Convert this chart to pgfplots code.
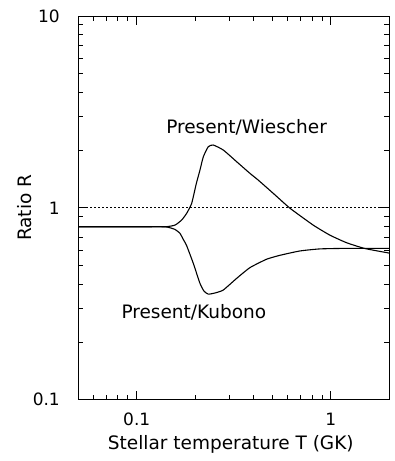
\documentclass[border=0pt]{standalone}
\usepackage{pgfplots}
\pgfplotsset{compat=1.18}
\usepackage{fontspec}
\setmainfont{DejaVu Sans}
\begin{document}
\begin{tikzpicture}
\begin{axis}[
  scale only axis,
  width=311pt, height=383.7pt,
  xmode=log, ymode=log,
  xmin=0.05, xmax=2, ymin=0.1, ymax=10,
  xtick={0.1,1}, xticklabels={0.1,1},
  ytick={0.1,1,10}, yticklabels={0.1,1,10},
  minor xtick={0.06,0.07,0.08,0.09,0.2,0.3,0.4,0.5,0.6,0.7,0.8,0.9,2},
  minor ytick={0.2,0.3,0.4,0.5,0.6,0.7,0.8,0.9,2,3,4,5,6,7,8,9},
  tick align=inside,
  major tick length=9pt, minor tick length=5pt,
  every tick/.style={black, line width=0.9pt},
  axis line style={line width=1pt},
  x tick label style={anchor=base, inner sep=0pt, yshift=-26pt, font=\fontsize{17}{20}\selectfont},
  y tick label style={anchor=east, inner sep=0pt, xshift=-18.3pt, font=\fontsize{17}{20}\selectfont},
  xlabel={Stellar temperature T (GK)},
  ylabel={Ratio R},
  xlabel style={at={(axis description cs:0.4904,-0.1293)}, anchor=base, inner sep=0pt, font=\fontsize{18.5}{22}\selectfont},
  ylabel style={at={(axis description cs:-0.1498,0.5)}, anchor=base, inner sep=0pt, font=\fontsize{18.5}{22}\selectfont},
]
\addplot[black, line width=0.8pt, dash pattern=on 2pt off 2pt] coordinates {(0.05,1) (2,1)};
\addplot[black, line width=1.1pt, smooth, tension=0.3] coordinates {
(0.05,0.797) (0.10,0.797) (0.14,0.797) (0.1574,0.813) (0.1704,0.864) (0.1808,0.936) (0.1919,1.055) (0.2024,1.33) (0.2117,1.574) (0.2203,1.847) (0.2336,2.083) (0.2478,2.126) (0.2791,2.002) (0.3271,1.740) (0.3829,1.513) (0.4209,1.40) (0.5088,1.182) (0.6162,0.995) (0.811,0.813) (0.988,0.721) (1.205,0.658) (1.496,0.614) (2.0,0.581)};
\addplot[black, line width=1.1pt, smooth, tension=0.3] coordinates {
(0.05,0.797) (0.10,0.797) (0.14,0.797) (0.1574,0.772) (0.1670,0.736) (0.1737,0.685) (0.1808,0.635) (0.1956,0.514) (0.2117,0.404) (0.2221,0.368) (0.2336,0.355) (0.2529,0.360) (0.2791,0.373) (0.3271,0.429) (0.3829,0.488) (0.4669,0.540) (0.5474,0.566) (0.692,0.596) (0.878,0.611) (1.2,0.615) (2.0,0.615)};
\node[anchor=base, inner sep=0pt, font=\fontsize{18.5}{22}\selectfont] at (axis cs:0.368,2.446) {Present/Wiescher};
\node[anchor=base, inner sep=0pt, font=\fontsize{18.5}{22}\selectfont] at (axis cs:0.197,0.265) {Present/Kubono};
\end{axis}
\pgfresetboundingbox
\path (current axis.south west) ++(-78.3pt,-61.3pt) rectangle ++(395pt,461pt);
\end{tikzpicture}
\end{document}
